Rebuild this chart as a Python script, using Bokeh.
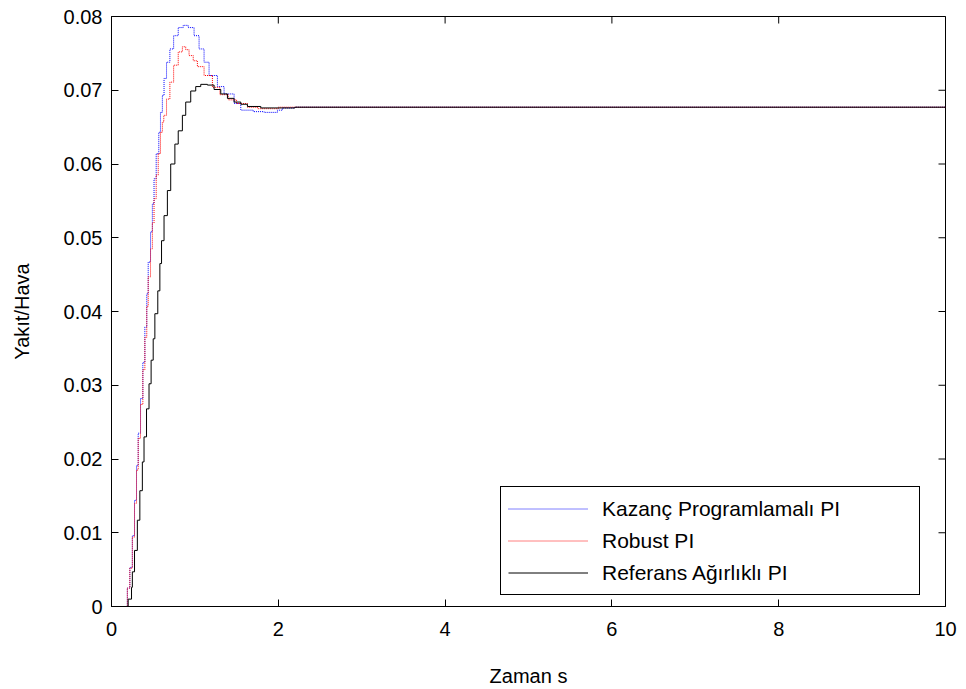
from bokeh.plotting import figure
from bokeh.models import FixedTicker, NumeralTickFormatter, Range1d, Legend, LegendItem
from bokeh.embed import file_html
from bokeh.resources import INLINE
import math

# ---- data ----
x_ticks = [0, 2, 4, 6, 8, 10]
y_ticks = [0, 0.01, 0.02, 0.03, 0.04, 0.05, 0.06, 0.07, 0.08]

series_names = ["Kazanç Programlamalı PI", "Robust PI", "Referans Ağırlıklı PI"]

t_kazanc = [0, 0.19, 0.22, 0.25, 0.276, 0.30, 0.32, 0.348, 0.376, 0.40, 0.423, 0.44,
            0.468, 0.49, 0.51, 0.536, 0.567, 0.587, 0.61, 0.63, 0.66, 0.70, 0.745,
            0.80, 0.86, 0.92, 0.99, 1.05, 1.11, 1.17, 1.27, 1.35, 1.47, 1.55, 1.70,
            1.83, 1.99, 2.05, 2.2, 10]
v_kazanc = [0, 0.0025, 0.0053, 0.0096, 0.0144, 0.0191, 0.0235, 0.0282, 0.0331, 0.0379,
            0.0424, 0.0467, 0.0508, 0.0546, 0.0580, 0.0614, 0.0643, 0.0670, 0.0693,
            0.0716, 0.0738, 0.0756, 0.0774, 0.0785, 0.0788, 0.0785, 0.0774, 0.0756,
            0.0738, 0.0720, 0.0705, 0.0695, 0.0682, 0.0673, 0.0671, 0.0670, 0.0673,
            0.0676, 0.0677, 0.0677]

t_robust = [0, 0.19, 0.22, 0.25, 0.276, 0.30, 0.32, 0.348, 0.376, 0.40, 0.423, 0.44,
            0.468, 0.49, 0.51, 0.536, 0.56, 0.587, 0.61, 0.627, 0.66, 0.70, 0.745,
            0.80, 0.85, 0.89, 0.93, 0.98, 1.03, 1.11, 1.21, 1.30, 1.40, 1.50, 1.63,
            1.75, 1.93, 2.0, 10]
v_robust = [0, 0.0025, 0.0052, 0.0094, 0.0140, 0.0185, 0.0228, 0.0274, 0.0321, 0.0365,
            0.0407, 0.0447, 0.0485, 0.0520, 0.0553, 0.0585, 0.0614, 0.0643, 0.0657,
            0.0666, 0.0688, 0.0711, 0.0734, 0.0752, 0.0759, 0.0755, 0.0747, 0.0740,
            0.0732, 0.0720, 0.0704, 0.0694, 0.0687, 0.0682, 0.0677, 0.0675, 0.0675,
            0.0677, 0.0677]

t_referans = [0, 0.20, 0.24, 0.25, 0.276, 0.31, 0.34, 0.37, 0.39, 0.42, 0.45, 0.475,
              0.50, 0.52, 0.555, 0.58, 0.60, 0.63, 0.67, 0.71, 0.76, 0.80, 0.85, 0.89,
              0.95, 1.01, 1.07, 1.15, 1.23, 1.31, 1.39, 1.47, 1.55, 1.63, 1.79, 1.95,
              2.2, 10]
v_referans = [0, 0.0010, 0.0026, 0.0047, 0.0076, 0.0117, 0.0157, 0.0196, 0.0230,
              0.0268, 0.0302, 0.0334, 0.0363, 0.0397, 0.0428, 0.0465, 0.0496, 0.0530,
              0.0564, 0.0600, 0.0627, 0.0645, 0.0666, 0.0684, 0.0699, 0.0705, 0.0708,
              0.0707, 0.0701, 0.0695, 0.0689, 0.0684, 0.0681, 0.0678, 0.0676, 0.0676,
              0.0677, 0.0677]

FONT = "Liberation Sans"

p = figure(width=966, height=689, output_backend="svg", toolbar_location=None,
           x_range=Range1d(x_ticks[0], x_ticks[-1]), y_range=Range1d(y_ticks[0], y_ticks[-1]),
           min_border_left=111, min_border_right=21, min_border_top=16, min_border_bottom=83)
p.grid.visible = False
p.outline_line_color = "black"
p.outline_line_width = 1
p.background_fill_color = "white"
p.border_fill_color = "white"

r1 = p.step(t_kazanc, v_kazanc, mode="after", line_color="blue", line_width=1, line_dash="1 1")
r2 = p.step(t_robust, v_robust, mode="after", line_color="red", line_width=1, line_dash="1 1")
r3 = p.step(t_referans, v_referans, mode="after", line_color="black", line_width=1)

# inward ticks on the top and right edges (MATLAB box style); half of each dash is clipped by the frame
p.scatter([x_ticks[-1]] * len(y_ticks), y_ticks, marker="dash", size=14,
          line_color="black", line_width=1)
p.scatter(x_ticks, [y_ticks[-1]] * len(x_ticks), marker="dash", size=14, angle=math.pi / 2,
          line_color="black", line_width=1)

for ax in (p.xaxis[0], p.yaxis[0]):
    ax.major_tick_in = 7
    ax.major_tick_out = 0
    ax.minor_tick_in = 0
    ax.minor_tick_out = 0
    ax.axis_line_color = "black"
    ax.major_tick_line_color = "black"
    ax.major_label_text_font = FONT
    ax.major_label_text_color = "black"
    ax.major_label_text_font_size = "20px"
    ax.axis_label_text_font = FONT
    ax.axis_label_text_font_size = "20px"
    ax.axis_label_text_font_style = "normal"
    ax.axis_label_text_color = "black"

p.xaxis.ticker = FixedTicker(ticks=x_ticks)
p.yaxis.ticker = FixedTicker(ticks=y_ticks)
p.yaxis.formatter = NumeralTickFormatter(format="0.[00]")
p.xaxis.major_label_standoff = 15
p.yaxis.major_label_standoff = 9

p.xaxis.axis_label = "Zaman s"
p.yaxis.axis_label = "Yakıt/Hava"
p.xaxis.axis_label_standoff = 26
p.yaxis.axis_label_standoff = 28

legend = Legend(items=[LegendItem(label=series_names[0], renderers=[r1]),
                       LegendItem(label=series_names[1], renderers=[r2]),
                       LegendItem(label=series_names[2], renderers=[r3])],
                location=(389, 11))
legend.border_line_color = "black"
legend.border_line_width = 1
legend.border_line_alpha = 1
legend.background_fill_color = "white"
legend.background_fill_alpha = 1
legend.label_text_font = FONT
legend.label_text_font_size = "21px"
legend.label_text_color = "black"
legend.glyph_width = 80
legend.glyph_height = 29
legend.label_height = 29
legend.spacing = 3
legend.padding = 7
legend.label_standoff = 14
legend.label_width = 310
legend.margin = 0
p.add_layout(legend)

open("out.html", "w").write(file_html(p, INLINE))
